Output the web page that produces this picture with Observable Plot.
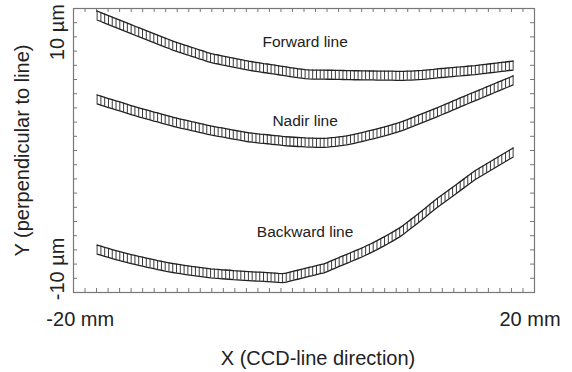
<!DOCTYPE html>
<html><head><meta charset="utf-8">
<script src="https://cdn.jsdelivr.net/npm/d3@7"></script>
<script src="https://cdn.jsdelivr.net/npm/@observablehq/plot@0.6"></script>
<style>body{margin:0;background:#fff}</style>
</head><body><div id="chart"></div>
<script>
// Sample positions along the CCD line (mm) and Y offsets (µm)
const xStart = -18.5, xEnd = 18.5;
const forward = [11.41,11.28,11.15,11.02,10.89,10.77,10.64,10.51,10.38,10.25,10.12,
  10.00,9.87,9.75,9.62,9.50,9.37,9.25,9.12,9.00,8.87,
  8.76,8.66,8.55,8.45,8.34,8.24,8.13,8.03,7.92,7.82,
  7.75,7.69,7.62,7.56,7.49,7.43,7.36,7.30,7.23,7.17,
  7.12,7.07,7.02,6.97,6.93,6.88,6.83,6.78,6.73,6.68,
  6.63,6.58,6.53,6.49,6.45,6.43,6.42,6.41,6.41,6.41,
  6.40,6.40,6.39,6.39,6.38,6.37,6.37,6.36,6.36,6.35,
  6.35,6.34,6.34,6.33,6.33,6.32,6.32,6.32,6.31,6.31,
  6.31,6.32,6.33,6.35,6.37,6.39,6.42,6.45,6.48,6.52,
  6.55,6.57,6.60,6.63,6.66,6.68,6.71,6.74,6.77,6.80,
  6.84,6.88,6.91,6.95,6.99,7.03,7.07,7.10,7.14,7.18];
const nadir = [4.31,4.21,4.11,4.01,3.91,3.81,3.72,3.62,3.52,3.42,3.32,
  3.23,3.14,3.05,2.96,2.87,2.79,2.70,2.61,2.52,2.43,
  2.36,2.28,2.21,2.14,2.06,1.99,1.92,1.85,1.77,1.70,
  1.64,1.58,1.53,1.47,1.41,1.35,1.29,1.24,1.18,1.12,
  1.08,1.05,1.01,0.98,0.95,0.91,0.88,0.85,0.81,0.78,
  0.76,0.74,0.72,0.70,0.68,0.67,0.66,0.65,0.65,0.65,
  0.67,0.70,0.73,0.77,0.81,0.86,0.92,0.99,1.06,1.14,
  1.21,1.29,1.37,1.45,1.54,1.62,1.71,1.80,1.90,1.99,
  2.11,2.23,2.36,2.48,2.61,2.74,2.86,2.99,3.12,3.25,
  3.38,3.52,3.65,3.79,3.92,4.06,4.19,4.33,4.46,4.60,
  4.73,4.86,5.00,5.13,5.26,5.39,5.52,5.66,5.79,5.92];
const backward = [-8.37,-8.47,-8.57,-8.66,-8.75,-8.84,-8.93,-9.01,-9.09,-9.17,-9.25,
  -9.33,-9.40,-9.47,-9.54,-9.61,-9.68,-9.74,-9.81,-9.87,-9.93,
  -9.98,-10.03,-10.08,-10.13,-10.18,-10.22,-10.26,-10.30,-10.34,-10.38,
  -10.41,-10.43,-10.46,-10.48,-10.50,-10.53,-10.55,-10.57,-10.59,-10.61,
  -10.63,-10.65,-10.66,-10.68,-10.70,-10.72,-10.74,-10.77,-10.79,-10.74,
  -10.66,-10.58,-10.50,-10.42,-10.34,-10.26,-10.19,-10.11,-10.03,-9.96,
  -9.83,-9.69,-9.56,-9.42,-9.29,-9.16,-9.02,-8.89,-8.75,-8.62,
  -8.47,-8.32,-8.16,-8.00,-7.83,-7.66,-7.48,-7.30,-7.11,-6.92,
  -6.69,-6.45,-6.20,-5.95,-5.70,-5.45,-5.19,-4.93,-4.67,-4.42,
  -4.19,-3.95,-3.72,-3.48,-3.25,-3.01,-2.78,-2.54,-2.31,-2.07,
  -1.88,-1.69,-1.50,-1.31,-1.12,-0.93,-0.74,-0.55,-0.36,-0.17];
const errHalf = 0.38;
const seriesNames = ["Forward line", "Nadir line", "Backward line"];
const labelY = [9.13, 2.49, -6.89];
const yTickLabels = [10, -10];
const xTickLabels = [-20, 20];
const xDomain = [-20.6, 20.4];
const yDomain = [-12, 12];

const allSeries = [forward, nadir, backward];
const rows = allSeries.flatMap((vals, s) => vals.map((v, i) => ({
  name: seriesNames[s],
  x: xStart + i * (xEnd - xStart) / (vals.length - 1),
  lo: v - errHalf, hi: v + errHalf
})));
const labels = seriesNames.map((n, i) => ({name: n, x: 0, y: labelY[i]}));

const yMinor = d3.range(21).map(k => yDomain[0] + k * (yDomain[1] - yDomain[0]) / 20);
const xMinor = d3.range(41).map(k => xDomain[0] + k * (xDomain[1] - xDomain[0]) / 40);
const W = 572, H = 372, mL = 73, mR = 38, mT = 8, mB = 80;
const tickPx = 4;
const kx = (xDomain[1] - xDomain[0]) / (W - mL - mR);
const ky = (yDomain[1] - yDomain[0]) / (H - mT - mB);
const frameColor = "#777";
const ink = "#222";
const font = "'Liberation Sans', Arial, sans-serif";

const chart = Plot.plot({
  width: W, height: H,
  marginLeft: mL, marginRight: mR, marginTop: mT, marginBottom: mB,
  style: {fontFamily: font, background: "#fff"},
  x: {domain: xDomain, axis: null},
  y: {domain: yDomain, axis: null},
  marks: [
    Plot.ruleY(yMinor, {y: d => d, x1: xDomain[0], x2: xDomain[0] + tickPx * kx, stroke: frameColor}),
    Plot.ruleY(yMinor, {y: d => d, x1: xDomain[1], x2: xDomain[1] - tickPx * kx, stroke: frameColor}),
    Plot.ruleX(xMinor, {x: d => d, y1: yDomain[0], y2: yDomain[0] + tickPx * ky, stroke: frameColor}),
    Plot.ruleX(xMinor, {x: d => d, y1: yDomain[1], y2: yDomain[1] - tickPx * ky, stroke: frameColor}),
    Plot.frame({stroke: frameColor, strokeWidth: 1.2}),
    Plot.ruleX(rows, {x: "x", y1: "lo", y2: "hi", stroke: ink, strokeWidth: 0.9}),
    Plot.line(rows, {x: "x", y: "lo", z: "name", stroke: ink, strokeWidth: 1.3}),
    Plot.line(rows, {x: "x", y: "hi", z: "name", stroke: ink, strokeWidth: 1.3}),
    Plot.text(labels, {x: "x", y: "y", text: "name", fontSize: 15.5, fill: "#222"}),
    Plot.text(yTickLabels, {y: d => d, text: d => `${d} µm`, frameAnchor: "left", textAnchor: "middle", dx: -16, rotate: -90, fontSize: 20, fill: "#222"}),
    Plot.text(xTickLabels, {x: d => d, text: d => `${d} mm`, frameAnchor: "bottom", dy: 33, fontSize: 20, fill: "#222"}),
    Plot.text(["X (CCD-line direction)"], {text: d => d, frameAnchor: "bottom", dx: 14, dy: 72, fontSize: 20, fill: "#222"}),
    Plot.text(["Y (perpendicular to line)"], {text: d => d, frameAnchor: "left", textAnchor: "middle", dx: -51, rotate: -90, fontSize: 20, fill: "#222"})
  ]
});
document.getElementById("chart").append(chart);
</script>
</body></html>
